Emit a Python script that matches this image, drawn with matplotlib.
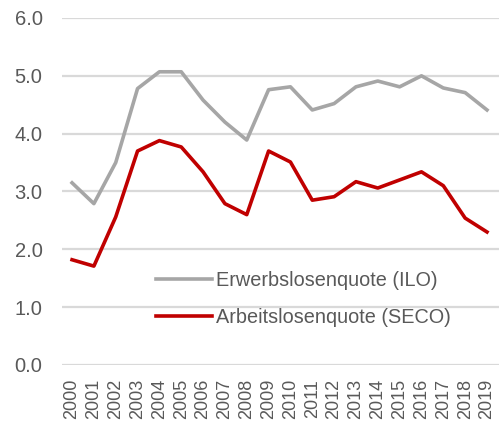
import matplotlib.pyplot as plt

plt.rcParams['font.family'] = ['Liberation Sans', 'DejaVu Sans']

jahre = list(range(2000, 2020))
ilo = [3.15, 2.79, 3.50, 4.78, 5.07, 5.07, 4.58, 4.20, 3.89, 4.76,
       4.81, 4.41, 4.52, 4.81, 4.91, 4.81, 5.00, 4.79, 4.71, 4.41]
seco = [1.82, 1.71, 2.56, 3.70, 3.88, 3.77, 3.34, 2.79, 2.60, 3.70,
        3.51, 2.85, 2.91, 3.17, 3.06, 3.20, 3.34, 3.10, 2.54, 2.30]

fig = plt.figure(figsize=(4.99, 4.25), dpi=100)
ax = fig.add_axes([62 / 499, 60 / 425, 437 / 499, 347 / 425])

ax.plot(jahre, ilo, color='#a6a6a6', lw=2.6, label='Erwerbslosenquote (ILO)')
ax.plot(jahre, seco, color='#c00000', lw=2.6, label='Arbeitslosenquote (SECO)')

ax.set_ylim(0, 6)
ax.set_xlim(2000 - 0.46, 2019 + 0.55)
ax.set_yticks([0, 1, 2, 3, 4, 5, 6])
ax.set_yticklabels(['%.1f' % v for v in range(7)])
ax.set_xticks(jahre)
ax.set_xticklabels([str(j) for j in jahre], rotation=90)
ax.grid(axis='y', color='#d9d9d9', lw=1.6)
ax.set_axisbelow(True)
for s in ax.spines.values():
    s.set_visible(False)
ax.tick_params(length=0, colors='#595959')
ax.tick_params(axis='y', pad=14, labelsize=14.5)
ax.tick_params(axis='x', pad=10, labelsize=13)

leg = ax.legend(loc='center left', bbox_to_anchor=(0.215, 0.19), frameon=False,
                fontsize=14.3, handlelength=2.8, handletextpad=0.2,
                labelspacing=0.9, borderpad=0, borderaxespad=0)
for t in leg.get_texts():
    t.set_color('#595959')

fig.savefig('out.png', dpi=100)
